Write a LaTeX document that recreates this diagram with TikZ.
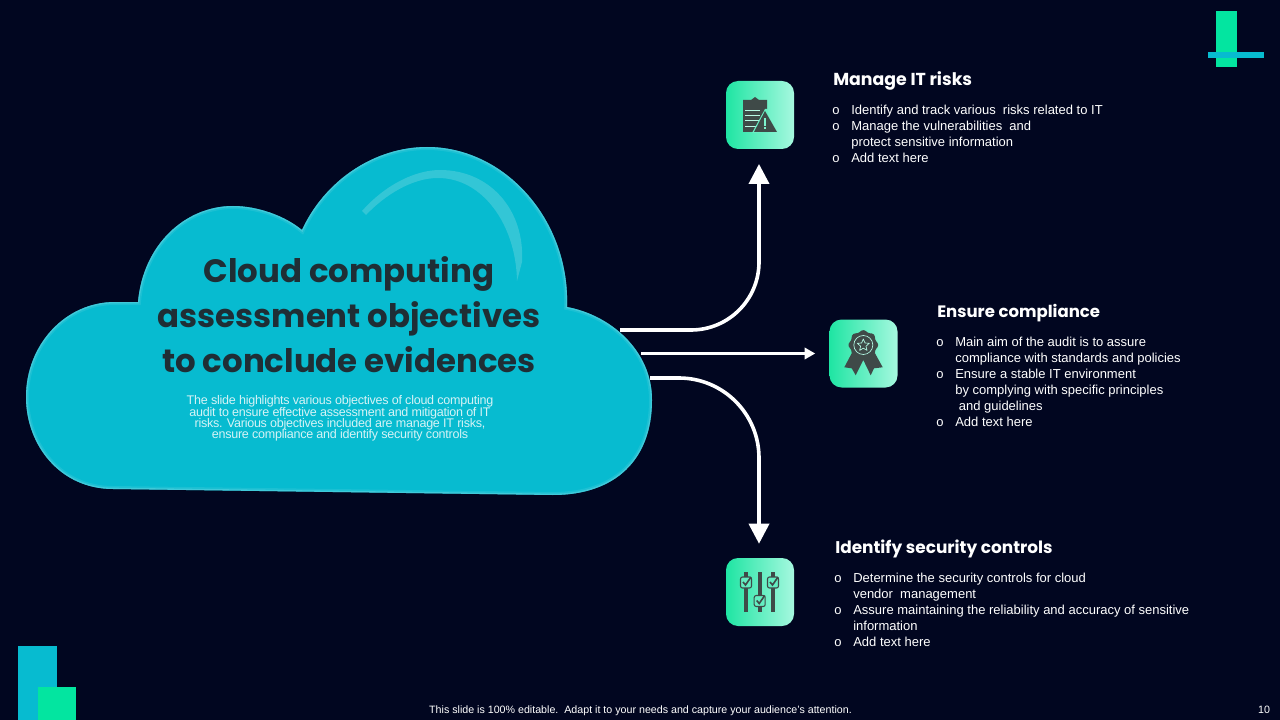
\documentclass[tikz,border=0pt]{standalone}
\usepackage{fontspec}
\setmainfont{Liberation Sans}
\newfontfamily\headfont{Poppins}
\newfontfamily\tightfont[LetterSpace=-2]{Liberation Sans}
\usetikzlibrary{arrows.meta}
\definecolor{bgc}{HTML}{010620}
\definecolor{tealc}{HTML}{07BBD0}
\definecolor{rimc}{HTML}{5AD0DE}
\definecolor{hlc}{HTML}{33C6D6}
\definecolor{greenc}{HTML}{03E5A0}
\definecolor{inkc}{HTML}{1F2E35}
\definecolor{iconc}{HTML}{3F4A48}
\definecolor{mintl}{HTML}{1FE5A3}
\definecolor{mintr}{HTML}{A6F8DF}
\definecolor{softc}{HTML}{D5F3F6}
\newcommand{\cloudshape}{(138,302) .. controls (143,245) and (185,206) .. (233,206)
 .. controls (258,206) and (285,216) .. (302,230)
 .. controls (325,180) and (375,147) .. (427,147)
 .. controls (505,147) and (570,220) .. (567,307)
 .. controls (610,315) and (652,350) .. (652,400)
 .. controls (652,460) and (615,495) .. (553,495)
 -- (113,489)
 .. controls (60,489) and (26,445) .. (26,397)
 .. controls (26,345) and (65,302) .. (115,302) -- cycle}
\newcommand{\bul}[1]{\makebox[14.25pt][l]{#1}}
\newcommand{\tightset}{\tightfont\fontsize{9.4}{8.6}\selectfont\lineskiplimit=-5pt\relax}
\tikzset{
 x=0.75pt,y=-0.75pt,
 iconbox/.style={rounded corners=9pt,minimum size=51pt,inner sep=0pt,left color=mintl,right color=mintr,draw=none},
 flow/.style={draw=white,line width=2.7pt,-{Triangle[width=15pt,length=15pt]}},
 flowsmall/.style={draw=white,line width=2.7pt,-{Triangle[width=8.5pt,length=8pt]}},
 heading/.style={anchor=west,inner sep=0pt,text=white,font=\headfont\bfseries\fontsize{#1}{15}\selectfont},
 bodytext/.style={anchor=north west,inner sep=0pt,align=left,text=white,font=\fontsize{9.75}{12}\selectfont},
 glyph/.style={fill=iconc,draw=none},
}
\begin{document}
\begin{tikzpicture}
\fill[bgc] (0,0) rectangle (1280,720);
\useasboundingbox (0,0) rectangle (1280,720);
% corner marks
\fill[greenc] (1216,11) rectangle (1237,67);
\fill[tealc] (1208,52) rectangle (1264,58);
\fill[tealc] (18,646) rectangle (57,720);
\fill[greenc] (38,687) rectangle (76,720);
% cloud
\fill[tealc] \cloudshape;
\begin{scope}
\clip \cloudshape;
\draw[rimc,opacity=.25,line width=4.5pt] \cloudshape;
\draw[rimc,opacity=.6,line width=2pt] \cloudshape;
\end{scope}
\fill[hlc] (362,211) .. controls (385,185) and (415,170) .. (440,170)
 .. controls (490,170) and (525,210) .. (522,262) -- (517,281)
 .. controls (516,225) and (483,178) .. (438,178)
 .. controls (412,178) and (385,195) .. (366,215) -- cycle;
\node[align=center,inner sep=0pt,text=inkc,font=\headfont\bfseries\fontsize{24.3}{33.75}\selectfont] (title) at (349,315) {Cloud computing\\assessment objectives\\to conclude evidences};
\node[align=center,inner sep=0pt,text=softc,font=\tightset] (desc) at (340,418.5) {The slide highlights various objectives of cloud computing\\audit to ensure effective assessment and mitigation of IT\\risks. Various objectives included are manage IT risks,\\ensure compliance and identify security controls};
% anchors on the cloud edge
\coordinate (c1) at (620,330);
\coordinate (c2) at (641,353.5);
\coordinate (c3) at (650,378);
% icon boxes
\node[iconbox] (icon1) at (760,115) {};
\node[iconbox] (icon2) at (863.5,353.5) {};
\node[iconbox] (icon3) at (760,592) {};
% connectors
\draw[flow,rounded corners=51pt,shorten >=11pt] (c1) -| ([xshift=-.75pt]icon1.south);
\draw[flowsmall,shorten >=10.5pt] (c2) -- (icon2.west);
\draw[flow,rounded corners=60pt,shorten >=10.5pt] (c3) -| ([xshift=-.75pt]icon3.north);
% icon 1: clipboard and warning
\fill[glyph] (743,100) -- (751,100) -- (755,97) -- (759,100) -- (767,100) -- (767,132) -- (743,132) -- cycle;
\foreach \yy in {110,115,120.5,126}{\draw[mintr!80!white,line width=.45pt] (745,\yy) -- (760,\yy);}
\fill[mintl!45!mintr] (752,133) -- (765,109) -- (768,109) -- (768,133) -- cycle;
\fill[glyph] (754,132) -- (765,111) -- (777,132) -- cycle;
\fill[mintl!30!mintr] (763.7,118) rectangle (765.6,126);
\fill[mintl!30!mintr] (763.7,127.5) rectangle (765.6,129.5);
% icon 2: rosette
\fill[glyph] (851.7,353.3) -- (844.3,367.3) -- (851.7,368.3) -- (855.7,375.3) -- (863.3,360) -- (870.7,375.3) -- (874,368.3) -- (882.7,367.3) -- (875,353.3) -- cycle;
\fill[glyph] plot[smooth cycle,samples=41,domain=0:351] ({863.3+(14+0.9*cos(8*\x))*cos(\x)},{345+(14+0.9*cos(8*\x))*sin(\x)});
\draw[mintr!85!white,line width=.5pt] (863.3,345) circle[radius=9.5];
\draw[mintr!85!white,line width=.5pt,line join=round] (863.3,339) -- (865,343) -- (869.3,343.3) -- (866,346.2) -- (867,350.4) -- (863.3,348.2) -- (859.6,350.4) -- (860.6,346.2) -- (857.3,343.3) -- (861.6,343) -- cycle;
% icon 3: sliders with check marks
\foreach \xx in {746,759.7,773}{\fill[glyph] (\xx-1.8,572) rectangle (\xx+1.8,612);}
\foreach \xx/\yy in {746/582.5,759.7/601,773/582.5}{
 \draw[iconc,fill=mintl!50!mintr,line width=.8pt,rounded corners=1.5pt] (\xx-5.5,\yy-5.5) rectangle (\xx+5.5,\yy+5.5);
 \draw[iconc,line width=1.2pt] (\xx-3,\yy-.5) -- (\xx-.5,\yy+2.5) -- (\xx+5,\yy-5.5);
}
% texts
\node[heading=13] (h1) at (833,81) {Manage IT risks};
\node[bodytext] (b1) at (832,105) {\bul{o}Identify and track various\ \ risks related to IT\\\bul{o}Manage the vulnerabilities\ \ and\\\bul{}protect sensitive information\\\bul{o}Add text here};
\node[heading=12.4] (h2) at (937,313) {Ensure compliance};
\node[bodytext] (b2) at (936,337) {\bul{o}Main aim of the audit is to assure\\\bul{}compliance with standards and policies\\\bul{o}Ensure a stable IT environment\\\bul{}by complying with specific principles\\\bul{}\ and guidelines\\\bul{o}Add text here};
\node[heading=12.7] (h3) at (835,549) {Identify security controls};
\node[bodytext] (b3) at (834,573) {\bul{o}Determine the security controls for cloud\\\bul{}vendor\ \ management\\\bul{o}Assure maintaining the reliability and accuracy of sensitive\\\bul{}information\\\bul{o}Add text here};
\node[inner sep=0pt,text=white,font=\fontsize{8}{10}\selectfont] (foot) at (640.5,710.5) {This slide is 100\% editable.\ \ Adapt it to your needs and capture your audience's attention.};
\node[inner sep=0pt,text=white,font=\fontsize{8}{10}\selectfont] (page) at (1264,710) {10};
\end{tikzpicture}
\end{document}
